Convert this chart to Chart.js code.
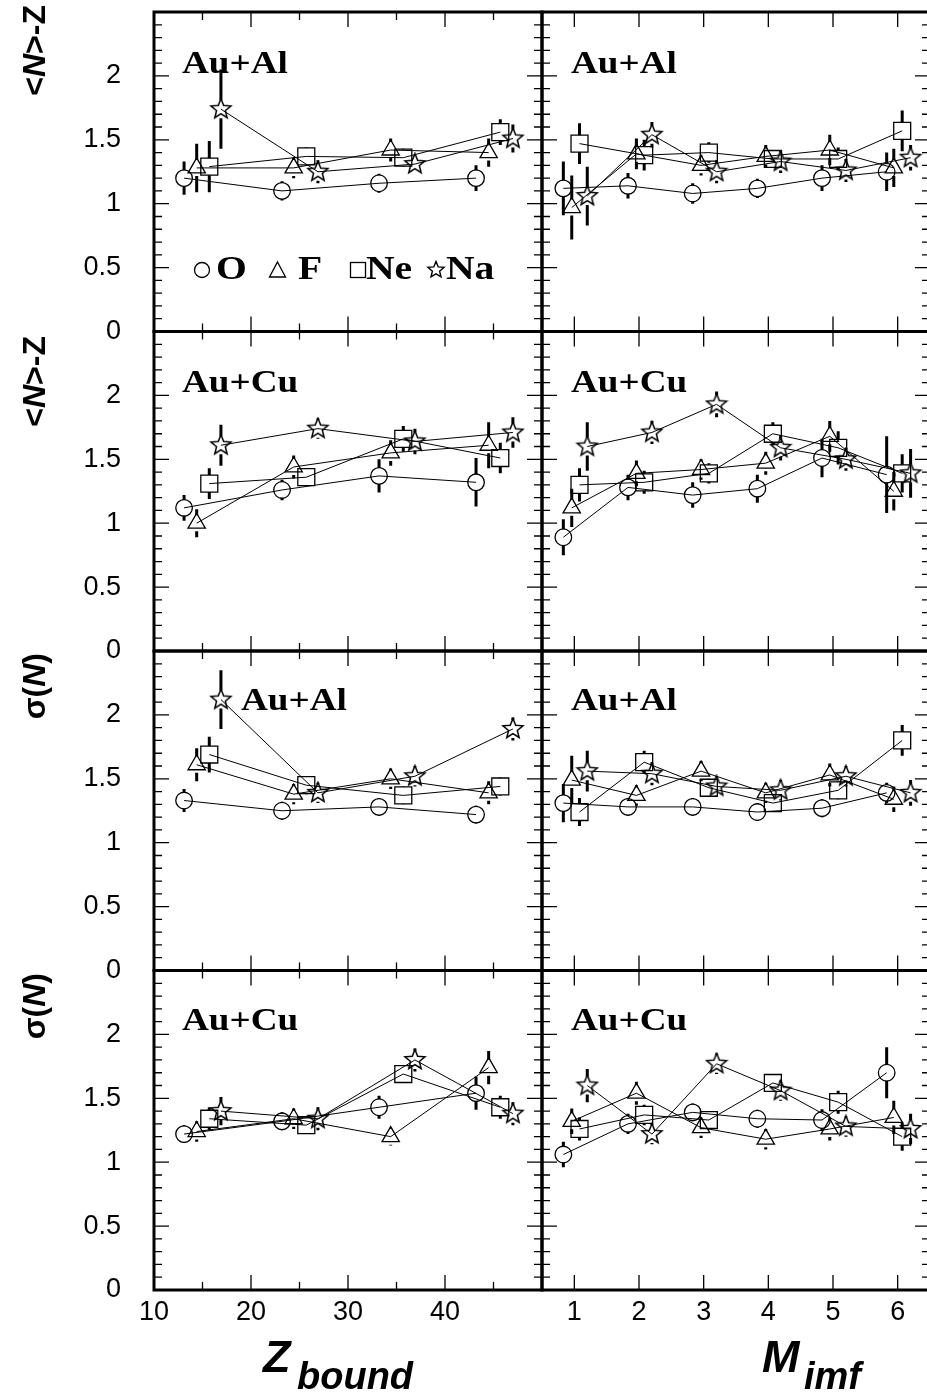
<!DOCTYPE html>
<html>
<head>
<meta charset="UTF-8" />
<title>&lt;N&gt;-Z and sigma(N) vs Zbound and Mimf</title>
<script src="https://cdn.jsdelivr.net/npm/chart.js"></script>
<style>
  *{box-sizing:border-box}
  html,body{margin:0;padding:0;background:#fff;overflow:hidden;}
  .wrap{position:relative;width:927px;height:1396px;overflow:hidden;background:#fff;}
  #plot{position:absolute;left:0;top:0;}
  .lbl{position:absolute;font-family:'Liberation Serif','Times New Roman',serif;font-weight:bold;font-size:31px;line-height:1;transform:scaleX(1.2);transform-origin:0 0;white-space:nowrap;color:#000;}
  .leg{font-size:33px;}
  .ytitle{position:absolute;left:18px;font-family:'Liberation Sans',Arial,sans-serif;font-weight:bold;font-size:32px;line-height:1;writing-mode:vertical-rl;transform:rotate(180deg);white-space:nowrap;color:#000;}
  .xt{position:absolute;font-family:'Liberation Sans',Arial,sans-serif;font-weight:bold;font-style:italic;line-height:1;white-space:nowrap;color:#000;}
</style>
</head>
<body>
<div class="wrap">
  <canvas id="plot" width="932" height="1396"></canvas>

  <!-- panel labels -->
  <div class="lbl" style="left:182px;top:47px">Au+Al</div>
  <div class="lbl" style="left:571px;top:47px">Au+Al</div>
  <div class="lbl" style="left:182px;top:366px">Au+Cu</div>
  <div class="lbl" style="left:571px;top:366px">Au+Cu</div>
  <div class="lbl" style="left:241px;top:684px">Au+Al</div>
  <div class="lbl" style="left:571px;top:684px">Au+Al</div>
  <div class="lbl" style="left:182px;top:1004px">Au+Cu</div>
  <div class="lbl" style="left:571px;top:1004px">Au+Cu</div>

  <!-- legend text (markers drawn on the canvas) -->
  <div class="lbl leg" style="left:216px;top:252px">O</div>
  <div class="lbl leg" style="left:298px;top:252px">F</div>
  <div class="lbl leg" style="left:366px;top:252px">Ne</div>
  <div class="lbl leg" style="left:446px;top:252px">Na</div>

  <!-- y titles -->
  <div class="ytitle" style="top:5px">&lt;<i>N</i>&gt;-Z</div>
  <div class="ytitle" style="top:336px">&lt;<i>N</i>&gt;-Z</div>
  <div class="ytitle" style="top:653px">σ(<i>N</i>)</div>
  <div class="ytitle" style="top:973px">σ(<i>N</i>)</div>

  <!-- x titles -->
  <div class="xt" style="left:263px;top:1334px;font-size:45px">Z</div>
  <div class="xt" style="left:297px;top:1357px;font-size:38px">bound</div>
  <div class="xt" style="left:762px;top:1334px;font-size:45px">M</div>
  <div class="xt" style="left:804px;top:1357px;font-size:38px">imf</div>
</div>
<script>
  // ---- axis ticks ----
  const yTickValues = [0,0.1,0.2,0.3,0.4,0.5,0.6,0.7,0.8,0.9,1,1.1,1.2,1.3,1.4,1.5,1.6,1.7,1.8,1.9,2,2.1,2.2,2.3,2.4,2.5];
  const yLabelValues = [0,0.5,1,1.5,2];
  const zbTickValues = [10,15,20,25,30,35,40,45,50];
  const zbLabelValues = [10,20,30,40];
  const mTickValues = [1,2,3,4,5,6];

  // ---- x positions of the points (bins shifted per element) ----
  const zbX_O  = [13.1, 23.2, 33.2, 43.2];
  const zbX_F  = [14.4, 24.4, 34.4, 44.5];
  const zbX_Ne = [15.7, 25.7, 35.7, 45.7];
  const zbX_Na = [16.9, 26.9, 36.9, 47.0];
  const mX_O  = [0.83, 1.83, 2.83, 3.83, 4.83, 5.83];
  const mX_F  = [0.96, 1.96, 2.96, 3.96, 4.95, 5.94];
  const mX_Ne = [1.08, 2.08, 3.08, 4.07, 5.08, 6.07];
  const mX_Na = [1.20, 2.20, 3.20, 4.19, 5.20, 6.20];

  // ---- Au+Al, <N>-Z vs Zbound ----
  const alZbNZ_O  = [1.20, 1.10, 1.16, 1.20], alZbNZ_O_err  = [0.13, 0.075, 0.075, 0.10];
  const alZbNZ_F  = [1.28, 1.28, 1.42, 1.40], alZbNZ_F_err  = [0.19, 0.08, 0.09, 0.11];
  const alZbNZ_Ne = [1.29, 1.37, 1.36, 1.56], alZbNZ_Ne_err = [0.20, 0.07, 0.07, 0.10];
  const alZbNZ_Na = [1.74, 1.25, 1.31, 1.51], alZbNZ_Na_err = [0.31, 0.09, 0.07, 0.11];
  // ---- Au+Al, <N>-Z vs Mimf ----
  const alMNZ_O  = [1.12, 1.14, 1.08, 1.12, 1.20, 1.25], alMNZ_O_err  = [0.21, 0.10, 0.08, 0.075, 0.10, 0.15];
  const alMNZ_F  = [0.97, 1.39, 1.30, 1.37, 1.42, 1.28], alMNZ_F_err  = [0.25, 0.12, 0.08, 0.09, 0.12, 0.15];
  const alMNZ_Ne = [1.47, 1.38, 1.40, 1.35, 1.35, 1.57], alMNZ_Ne_err = [0.16, 0.12, 0.08, 0.07, 0.09, 0.16];
  const alMNZ_Na = [1.06, 1.54, 1.25, 1.33, 1.26, 1.36], alMNZ_Na_err = [0.23, 0.10, 0.09, 0.09, 0.09, 0.10];
  // ---- Au+Cu, <N>-Z vs Zbound ----
  const cuZbNZ_O  = [1.12, 1.26, 1.37, 1.32], cuZbNZ_O_err  = [0.10, 0.08, 0.13, 0.19];
  const cuZbNZ_F  = [1.00, 1.44, 1.55, 1.61], cuZbNZ_F_err  = [0.11, 0.09, 0.10, 0.18];
  const cuZbNZ_Ne = [1.31, 1.36, 1.66, 1.51], cuZbNZ_Ne_err = [0.12, 0.07, 0.10, 0.12];
  const cuZbNZ_Na = [1.61, 1.74, 1.64, 1.71], cuZbNZ_Na_err = [0.16, 0.08, 0.10, 0.12];
  // ---- Au+Cu, <N>-Z vs Mimf ----
  const cuMNZ_O  = [0.89, 1.28, 1.22, 1.27, 1.51, 1.38], cuMNZ_O_err  = [0.14, 0.10, 0.10, 0.11, 0.15, 0.30];
  const cuMNZ_F  = [1.12, 1.39, 1.42, 1.47, 1.68, 1.25], cuMNZ_F_err  = [0.15, 0.10, 0.08, 0.09, 0.12, 0.15];
  const cuMNZ_Ne = [1.30, 1.32, 1.39, 1.70, 1.59, 1.39], cuMNZ_Ne_err = [0.13, 0.09, 0.08, 0.09, 0.13, 0.15];
  const cuMNZ_Na = [1.60, 1.71, 1.93, 1.59, 1.50, 1.39], cuMNZ_Na_err = [0.19, 0.09, 0.10, 0.10, 0.09, 0.19];
  // ---- Au+Al, sigma(N) vs Zbound ----
  const alZbSN_O  = [1.33, 1.25, 1.28, 1.22], alZbSN_O_err  = [0.09, 0.07, 0.07, 0.07];
  const alZbSN_F  = [1.61, 1.38, 1.50, 1.39], alZbSN_F_err  = [0.13, 0.08, 0.08, 0.09];
  const alZbSN_Ne = [1.69, 1.45, 1.37, 1.44], alZbSN_Ne_err = [0.14, 0.07, 0.07, 0.07];
  const alZbSN_Na = [2.12, 1.39, 1.52, 1.89], alZbSN_Na_err = [0.23, 0.08, 0.08, 0.09];
  // ---- Au+Al, sigma(N) vs Mimf ----
  const alMSN_O  = [1.31, 1.28, 1.28, 1.24, 1.27, 1.39], alMSN_O_err  = [0.15, 0.07, 0.07, 0.07, 0.07, 0.08];
  const alMSN_F  = [1.49, 1.37, 1.56, 1.39, 1.53, 1.34], alMSN_F_err  = [0.19, 0.08, 0.08, 0.08, 0.09, 0.10];
  const alMSN_Ne = [1.24, 1.63, 1.43, 1.31, 1.41, 1.80], alMSN_Ne_err = [0.11, 0.09, 0.07, 0.07, 0.07, 0.12];
  const alMSN_Na = [1.56, 1.54, 1.44, 1.41, 1.52, 1.39], alMSN_Na_err = [0.16, 0.09, 0.08, 0.08, 0.08, 0.10];
  // ---- Au+Cu, sigma(N) vs Zbound ----
  const cuZbSN_O  = [1.22, 1.32, 1.43, 1.54], cuZbSN_O_err  = [0.07, 0.07, 0.09, 0.13];
  const cuZbSN_F  = [1.24, 1.34, 1.20, 1.74], cuZbSN_F_err  = [0.08, 0.08, 0.07, 0.13];
  const cuZbSN_Ne = [1.34, 1.29, 1.69, 1.43], cuZbSN_Ne_err = [0.09, 0.07, 0.07, 0.09];
  const cuZbSN_Na = [1.40, 1.34, 1.80, 1.38], cuZbSN_Na_err = [0.11, 0.09, 0.09, 0.09];
  // ---- Au+Cu, sigma(N) vs Mimf ----
  const cuMSN_O  = [1.06, 1.30, 1.39, 1.34, 1.33, 1.70], cuMSN_O_err  = [0.10, 0.08, 0.07, 0.07, 0.085, 0.20];
  const cuMSN_F  = [1.32, 1.54, 1.27, 1.18, 1.26, 1.35], cuMSN_F_err  = [0.10, 0.09, 0.08, 0.08, 0.09, 0.13];
  const cuMSN_Ne = [1.26, 1.37, 1.33, 1.62, 1.47, 1.20], cuMSN_Ne_err = [0.09, 0.08, 0.07, 0.07, 0.09, 0.11];
  const cuMSN_Na = [1.60, 1.22, 1.77, 1.56, 1.28, 1.26], cuMSN_Na_err = [0.13, 0.08, 0.08, 0.08, 0.08, 0.12];

  const FONT_SANS = "'Liberation Sans', Arial, sans-serif";

  // hollow five-point star marker
  function makeStar(size, rOut, rIn, lw) {
    const c = document.createElement('canvas');
    c.width = size; c.height = size;
    const g = c.getContext('2d');
    g.beginPath();
    for (let k = 0; k < 10; k++) {
      const r = k % 2 ? rIn : rOut;
      const a = -Math.PI / 2 + k * Math.PI / 5;
      const px = size / 2 + r * Math.cos(a), py = size / 2 + r * Math.sin(a);
      if (k) g.lineTo(px, py); else g.moveTo(px, py);
    }
    g.closePath();
    g.lineJoin = 'miter';
    g.lineWidth = lw; g.strokeStyle = '#000'; g.stroke();
    return c;
  }
  const starImg = makeStar(24, 10.5, 4.6, 1.5);
  const legendStar = makeStar(20, 8.5, 3.8, 1.4);

  const shapes = { O: 'circle', F: 'triangle', Ne: 'rect', Na: starImg };
  const radii  = { O: 8.3, F: 10, Ne: 12, Na: 10 };
  const gaps   = { O: 8, F: 8, Ne: 8.5, Na: 9 };

  // panels: row, x axis, and series per element
  const panels = [
    { y: 'y0', x: 'xZ', s: { O: [zbX_O, alZbNZ_O, alZbNZ_O_err], F: [zbX_F, alZbNZ_F, alZbNZ_F_err], Ne: [zbX_Ne, alZbNZ_Ne, alZbNZ_Ne_err], Na: [zbX_Na, alZbNZ_Na, alZbNZ_Na_err] } },
    { y: 'y0', x: 'xM', s: { O: [mX_O, alMNZ_O, alMNZ_O_err], F: [mX_F, alMNZ_F, alMNZ_F_err], Ne: [mX_Ne, alMNZ_Ne, alMNZ_Ne_err], Na: [mX_Na, alMNZ_Na, alMNZ_Na_err] } },
    { y: 'y1', x: 'xZ', s: { O: [zbX_O, cuZbNZ_O, cuZbNZ_O_err], F: [zbX_F, cuZbNZ_F, cuZbNZ_F_err], Ne: [zbX_Ne, cuZbNZ_Ne, cuZbNZ_Ne_err], Na: [zbX_Na, cuZbNZ_Na, cuZbNZ_Na_err] } },
    { y: 'y1', x: 'xM', s: { O: [mX_O, cuMNZ_O, cuMNZ_O_err], F: [mX_F, cuMNZ_F, cuMNZ_F_err], Ne: [mX_Ne, cuMNZ_Ne, cuMNZ_Ne_err], Na: [mX_Na, cuMNZ_Na, cuMNZ_Na_err] } },
    { y: 'y2', x: 'xZ', s: { O: [zbX_O, alZbSN_O, alZbSN_O_err], F: [zbX_F, alZbSN_F, alZbSN_F_err], Ne: [zbX_Ne, alZbSN_Ne, alZbSN_Ne_err], Na: [zbX_Na, alZbSN_Na, alZbSN_Na_err] } },
    { y: 'y2', x: 'xM', s: { O: [mX_O, alMSN_O, alMSN_O_err], F: [mX_F, alMSN_F, alMSN_F_err], Ne: [mX_Ne, alMSN_Ne, alMSN_Ne_err], Na: [mX_Na, alMSN_Na, alMSN_Na_err] } },
    { y: 'y3', x: 'xZ', s: { O: [zbX_O, cuZbSN_O, cuZbSN_O_err], F: [zbX_F, cuZbSN_F, cuZbSN_F_err], Ne: [zbX_Ne, cuZbSN_Ne, cuZbSN_Ne_err], Na: [zbX_Na, cuZbSN_Na, cuZbSN_Na_err] } },
    { y: 'y3', x: 'xM', s: { O: [mX_O, cuMSN_O, cuMSN_O_err], F: [mX_F, cuMSN_F, cuMSN_F_err], Ne: [mX_Ne, cuMSN_Ne, cuMSN_Ne_err], Na: [mX_Na, cuMSN_Na, cuMSN_Na_err] } },
  ];

  const datasets = [];
  panels.forEach(p => {
    ['O', 'F', 'Ne', 'Na'].forEach(sp => {
      const [xs, ys, es] = p.s[sp];
      datasets.push({
        label: sp,
        data: xs.map((x, i) => ({ x: x, y: ys[i] })),
        errors: es,
        errGap: gaps[sp],
        xAxisID: p.x, yAxisID: p.y,
        showLine: true, tension: 0, fill: false,
        borderColor: '#000', borderWidth: 1,
        backgroundColor: 'rgba(0,0,0,0)',
        pointStyle: shapes[sp], pointRadius: radii[sp], pointHoverRadius: radii[sp],
        pointBorderColor: '#000', pointBorderWidth: 1.3,
        pointBackgroundColor: 'rgba(0,0,0,0)',
      });
    });
  });

  function yAxis(w) {
    return {
      type: 'linear', position: 'left', stack: 'rows', stackWeight: 1, weight: w,
      min: 0, max: 2.5,
      grid: { display: false, drawTicks: false }, border: { display: false },
      afterBuildTicks: s => { s.ticks = yTickValues.map(v => ({ value: v })); },
      afterFit: s => { s.width = 154; s.paddingTop = 0; s.paddingBottom = 0; },
      ticks: {
        autoSkip: false, padding: 33, color: '#000',
        font: { family: FONT_SANS, size: 27 },
        callback: v => yLabelValues.includes(v) ? String(v) : ''
      }
    };
  }
  function xAxis(w, min, max, tickVals, labelVals) {
    return {
      type: 'linear', position: 'bottom', stack: 'cols', stackWeight: 1, weight: w,
      min: min, max: max,
      grid: { display: false, drawTicks: false }, border: { display: false },
      afterBuildTicks: s => { s.ticks = tickVals.map(v => ({ value: v })); },
      afterFit: s => { s.height = 106; s.paddingLeft = 0; s.paddingRight = 0; },
      ticks: {
        autoSkip: false, maxRotation: 0, padding: 6, color: '#000',
        font: { family: FONT_SANS, size: 27 },
        callback: v => labelVals.includes(v) ? String(v) : ''
      }
    };
  }

  // frames, inward ticks, error bars, legend markers
  const framePlugin = {
    id: 'frames',
    afterDatasetsDraw(chart) {
      const ctx = chart.ctx;
      ctx.save();
      ctx.strokeStyle = '#000';
      // error bars, not drawn inside the marker
      ctx.lineWidth = 3;
      chart.data.datasets.forEach((d, i) => {
        const meta = chart.getDatasetMeta(i);
        const ys = chart.scales[d.yAxisID];
        meta.data.forEach((pt, j) => {
          const v = d.data[j].y, e = d.errors[j], g = d.errGap;
          const top = ys.getPixelForValue(v + e), bot = ys.getPixelForValue(v - e);
          ctx.beginPath();
          if (pt.y - g > top) { ctx.moveTo(pt.x, top); ctx.lineTo(pt.x, pt.y - g); }
          if (pt.y + g < bot) { ctx.moveTo(pt.x, pt.y + g); ctx.lineTo(pt.x, bot); }
          ctx.stroke();
        });
      });
      // panel frames and ticks
      ['y0', 'y1', 'y2', 'y3'].forEach(yid => {
        ['xZ', 'xM'].forEach(xid => {
          const xs = chart.scales[xid], ys = chart.scales[yid];
          const L = xs.left, R = xs.right, T = ys.top, B = ys.bottom;
          ctx.lineWidth = 1.3;
          ctx.beginPath();
          ys.ticks.forEach(t => {
            const p = ys.getPixelForValue(t.value);
            const len = yLabelValues.includes(t.value) || t.value === 2.5 ? 15 : 8;
            ctx.moveTo(L, p); ctx.lineTo(L + len, p);
            ctx.moveTo(R - len, p); ctx.lineTo(R, p);
          });
          xs.ticks.forEach(t => {
            const p = xs.getPixelForValue(t.value);
            const len = (xid === 'xM' || t.value % 10 === 0) ? 15 : 8;
            ctx.moveTo(p, T); ctx.lineTo(p, T + len);
            ctx.moveTo(p, B - len); ctx.lineTo(p, B);
          });
          ctx.stroke();
          ctx.lineWidth = 3;
          ctx.strokeRect(L, T, R - L, B - T);
        });
      });
      // legend markers (top-left panel)
      ctx.lineWidth = 1.3;
      ctx.beginPath(); ctx.arc(202, 270, 7.5, 0, Math.PI * 2); ctx.stroke();
      ctx.beginPath();
      ctx.moveTo(277.5, 262); ctx.lineTo(285.5, 277); ctx.lineTo(269.5, 277); ctx.closePath(); ctx.stroke();
      ctx.strokeRect(350.5, 262.5, 15, 15);
      ctx.drawImage(legendStar, 426, 260);
      ctx.restore();
    }
  };

  new Chart(document.getElementById('plot'), {
    type: 'scatter',
    data: { datasets: datasets },
    options: {
      responsive: false,
      animation: false,
      events: [],
      layout: { autoPadding: false, padding: { left: 0, top: 12, right: 2, bottom: 0 } },
      plugins: { legend: { display: false }, tooltip: { enabled: false } },
      scales: {
        y0: yAxis(4), y1: yAxis(3), y2: yAxis(2), y3: yAxis(1),
        xZ: xAxis(1, 10, 50, zbTickValues, zbLabelValues),
        xM: xAxis(2, 0.5, 6.5, mTickValues, mTickValues)
      }
    },
    plugins: [framePlugin]
  });
</script>
</body>
</html>
